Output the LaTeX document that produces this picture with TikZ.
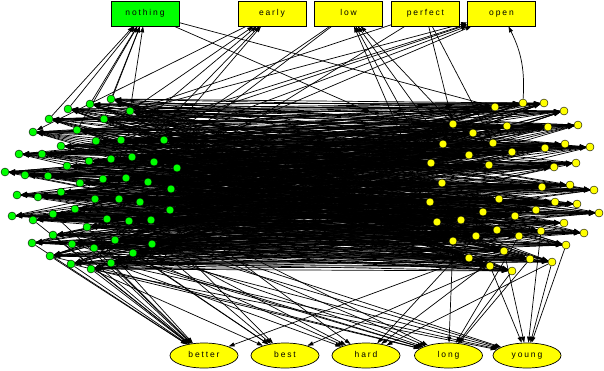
\documentclass[tikz,border=0pt]{standalone}
\usepackage{fontspec}
\setmainfont{Liberation Sans}[LetterSpace=22]
\usetikzlibrary{arrows.meta,shapes.geometric}
\definecolor{wordgreen}{RGB}{0,255,0}
\definecolor{wordyellow}{RGB}{255,255,0}
\pgfdeclarelayer{edges}
\pgfsetlayers{edges,main}

\begin{document}
\begin{tikzpicture}[
      x=1pt, y=-1pt,
      font=\fontsize{8.5}{10}\selectfont,
      gdot/.style={circle, draw=black, line width=.4pt, fill=wordgreen,
                   minimum size=8pt, inner sep=0pt},
      ydot/.style={circle, draw=black, line width=.4pt, fill=wordyellow,
                   minimum size=8pt, inner sep=0pt},
      box/.style={draw=black, line width=.7pt, minimum width=68pt,
                  minimum height=25pt, inner sep=0pt,
                  text height=6.2pt, text depth=1.8pt},
      oval/.style={ellipse, draw=black, line width=.7pt, fill=wordyellow,
                   minimum width=68pt, minimum height=25pt, inner sep=0pt,
                   text height=6.2pt, text depth=1.8pt},
      flow/.style={draw=black, -{Triangle[length=6pt,width=4pt]}, line width=.7pt}
    ]
    \useasboundingbox (0,0) rectangle (604,370);

    % Top words.
    \node[box, fill=wordgreen] (nothing) at (145,13.5) {nothing};
    \node[box, fill=wordyellow] (early) at (272,13.5) {early};
    \node[box, fill=wordyellow] (low) at (348.5,13.5) {low};
    \node[box, fill=wordyellow] (perfect) at (425.5,13.5) {perfect};
    \node[box, fill=wordyellow] (open) at (501.5,13.5) {open};

    % Bottom words.
    \node[oval] (better) at (204,355.5) {better};
    \node[oval] (best) at (285,355.5) {best};
    \node[oval] (hard) at (366,355.5) {hard};
    \node[oval] (long) at (448.5,355.5) {long};
    \node[oval] (young) at (527,355.5) {young};

    % Green cluster, sorted from top to bottom.
    \foreach \px/\py [count=\i] in {111/99, 90/104, 68/109, 130/111, 49/119,
        104/119, 77/130, 33/132, 121/140, 164/140, 96/141, 61/146, 19/154,
        42/154, 132/157, 111/159, 89/161, 154/162, 67/166, 177/168, 5/172,
        25/175, 48/176, 126/178, 103/179, 148/182, 80/183, 171/189, 61/192,
        17/195, 38/197, 95/199, 119/199, 140/202, 75/209, 170/210, 53/214,
        12/216, 107/219, 33/220, 151/220, 129/221, 87/227, 53/235, 115/240,
        32/243, 72/244, 152/244, 94/248, 133/253, 50/256, 111/263, 71/264,
        91/269}
      \node[gdot] (g\i) at (\px,\py) {};

    % Yellow cluster, sorted from top to bottom.
    \foreach \px/\py [count=\i] in {523/103, 544/103, 495/107, 564/111,
        453/124, 578/125, 507/126, 548/127, 473/133, 493/143, 565/144,
        443/144, 590/147, 545/148, 512/152, 469/155, 431/163, 576/163,
        489/165, 554/167, 442/183, 570/185, 542/187, 594/190, 499/199,
        430/202, 555/202, 577/204, 536/210, 483/212, 599/213, 515/216,
        461/220, 437/222, 564/223, 541/231, 497/230, 584/233, 519/236,
        476/236, 453/241, 566/245, 504/251, 469/258, 530/259, 552/262,
        490/266, 512/271}
      \node[ydot] (y\i) at (\px,\py) {};

    \begin{pgfonlayer}{edges}
    % Links between the two clusters.
    \foreach \i in {1,...,54} {
      \pgfmathtruncatemacro\b{round(\i*0.89)}
      \foreach \d in {-13,-7,-3,0,4,9,20} {
        \pgfmathtruncatemacro\j{mod(\b+\d+95,48)+1}
        \draw[flow] (g\i) -- (y\j);
      }
      \foreach \d in {-20,-10,-5,-1,2,6,15} {
        \pgfmathtruncatemacro\j{mod(\b+\d+95,48)+1}
        \draw[flow] (y\j) -- (g\i);
      }
    }

    % Links to and from the top words.
    \foreach \s in {1,2,3,4,5,6,7} \draw[flow] (g\s) -- (nothing);
    \foreach \t in {3,12} \draw[flow] (nothing) -- (y\t);
    \foreach \s in {4,9,10,15} \draw[flow] (g\s) -- (early);
    \draw[flow] (early) -- (g8);
    \foreach \s in {5,12,17,26} \draw[flow] (y\s) -- (low);
    \foreach \t in {10,18} \draw[flow] (low) -- (g\t);
    \foreach \t in {4,20} \draw[flow] (perfect) -- (g\t);
    \foreach \t in {5,10} \draw[flow] (perfect) -- (y\t);
    \foreach \s in {6,9,11,16,18} \draw[flow] (g\s) -- (open);
    \draw[flow] (y1) to[bend right=15] (open);

    % Links to the bottom words.
    \foreach \s in {37,40,43,44,46,47,49,51,52,53,54} \draw[flow] (g\s) -- (better);
    \draw[flow] (y44) -- (better);
    \foreach \s in {41,45,48,50,54} \draw[flow] (g\s) -- (best);
    \draw[flow] (y47) -- (best);
    \foreach \s in {36,48,50,52} \draw[flow] (g\s) -- (hard);
    \foreach \s in {40,43,46} \draw[flow] (y\s) -- (hard);
    \foreach \s in {34,42,45,47,49,51,53} \draw[flow] (g\s) -- (long);
    \foreach \s in {39,41,45,48} \draw[flow] (y\s) -- (long);
    \foreach \s in {39,48,50,52,54} \draw[flow] (g\s) -- (young);
    \foreach \s in {36,42,43,46,47} \draw[flow] (y\s) -- (young);
    \end{pgfonlayer}
  \end{tikzpicture}
\end{document}
